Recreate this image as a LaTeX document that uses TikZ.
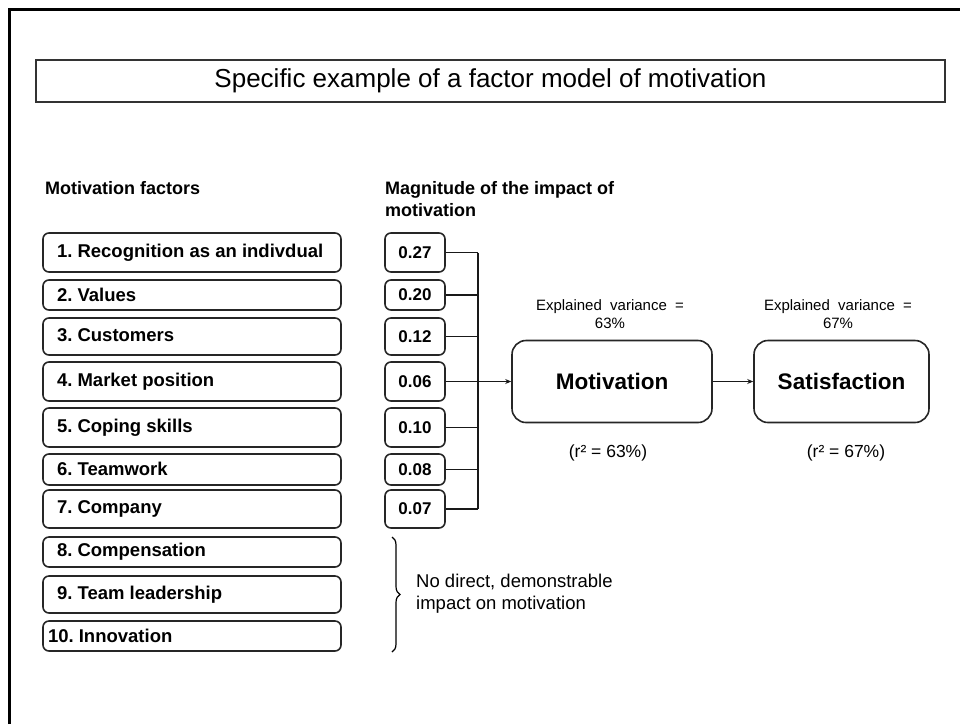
\documentclass[tikz,border=0pt]{standalone}
\usepackage{fontspec}
\setmainfont{Liberation Sans}
\usetikzlibrary{arrows.meta,decorations.pathreplacing}
\frenchspacing
\newcommand{\ftxt}[1]{\makebox[270pt][l]{#1}}
\begin{document}
\begin{tikzpicture}[x=1pt,y=-1pt,
  factor/.style={draw=black!85,line width=1.6pt,rounded corners=6pt,minimum width=298pt,inner xsep=14pt,inner ysep=0pt,font=\fontsize{18.5}{20}\selectfont\bfseries},
  value/.style={draw=black!85,line width=1.6pt,rounded corners=6pt,minimum width=60pt,inner sep=0pt,font=\fontsize{17}{20}\selectfont\bfseries},
  bigbox/.style={draw=black!85,line width=1.6pt,rounded corners=14pt,minimum height=82pt,inner sep=0pt,font=\fontsize{22.5}{26}\selectfont\bfseries},
  header/.style={font=\fontsize{18}{22}\selectfont\bfseries,inner sep=0pt,align=left},
  note/.style={font=\fontsize{15}{18}\selectfont,inner sep=0pt,align=center},
  conn/.style={line width=1.3pt,draw=black!90},
  arr/.style={conn,-{Stealth[length=6pt,width=5pt]}}
]
\useasboundingbox (0,0) rectangle (960,724);
% outer frame
\draw[line width=3pt] (9,724) -- (9,9) -- (960,9);
% title
\node[draw=black!80,line width=1.5pt,minimum width=909pt,minimum height=42pt,inner sep=0pt,font=\fontsize{26}{30}\selectfont] (title) at (490.5,81) {Specific example of a factor model of motivation};
% headers
\node[header,anchor=west] (hf) at (45,188) {Motivation factors};
\node[header,anchor=west] (hm) at (385,199) {Magnitude of the impact of\\motivation};
% factors
\node[factor,minimum height=39pt] (f1) at (192,252.5) {\ftxt{1. Recognition as an indivdual}};
\node[factor,minimum height=30pt] (f2) at (192,295) {\ftxt{2. Values}};
\node[factor,minimum height=37pt] (f3) at (192,336.5) {\ftxt{\raisebox{2pt}{3. Customers}}};
\node[factor,minimum height=39pt] (f4) at (192,381.5) {\ftxt{\raisebox{1.5pt}{4. Market position}}};
\node[factor,minimum height=39pt] (f5) at (192,427.5) {\ftxt{\raisebox{1.5pt}{5. Coping skills}}};
\node[factor,minimum height=31pt] (f6) at (192,469.5) {\ftxt{\raisebox{1.5pt}{6. Teamwork}}};
\node[factor,minimum height=38pt] (f7) at (192,509) {\ftxt{7. Company}};
\node[factor,minimum height=30pt] (f8) at (192,552) {\ftxt{\raisebox{2pt}{8. Compensation}}};
\node[factor,minimum height=37pt] (f9) at (192,594.5) {\ftxt{\raisebox{2pt}{9. Team leadership}}};
\node[factor,minimum height=30pt] (f10) at (192,636) {\ftxt{\hspace*{-9pt}10. Innovation}};
% values
\node[value,minimum height=39pt] (v1) at (415,252.5) {0.27};
\node[value,minimum height=30pt] (v2) at (415,295) {0.20};
\node[value,minimum height=37pt] (v3) at (415,336.5) {0.12};
\node[value,minimum height=39pt] (v4) at (415,381.5) {0.06};
\node[value,minimum height=39pt] (v5) at (415,427.5) {0.10};
\node[value,minimum height=31pt] (v6) at (415,469.5) {0.08};
\node[value,minimum height=38pt] (v7) at (415,509) {0.07};
% outcome boxes
\node[bigbox,minimum width=200pt] (mot) at (612,381.5) {Motivation};
\node[bigbox,minimum width=175pt] (sat) at (841.5,381.5) {Satisfaction};
% bus
\coordinate (bus) at (478,0);
\foreach \i in {1,...,7}{\draw[conn] (v\i.east) -- (v\i.east -| bus);}
\draw[conn] (v1.east -| bus) -- (v7.east -| bus);
\draw[arr] (v4.east) -- (mot.west);
\draw[arr] (mot.east) -- (sat.west);
% notes
\node[note] (ev1) at (610,314) {Explained\ \ variance\ \ =\\63\%};
\node[note] (ev2) at (838,314) {Explained\ \ variance\ \ =\\67\%};
\node[note,font=\fontsize{17.5}{20}\selectfont] (r1) at (608,453) {(r² = 63\%)};
\node[note,font=\fontsize{17.5}{20}\selectfont] (r2) at (846,453) {(r² = 67\%)};
% brace
\coordinate (bt) at (392,537);
\coordinate (bb) at (392,652);
\draw[line width=1.2pt,decorate,decoration={brace,amplitude=8pt}] (bt) -- (bb);
\node[font=\fontsize{18.5}{22}\selectfont,inner sep=0pt,align=left,anchor=west] (nd) at (416,594) {No direct, demonstrable\\impact on motivation};
\end{tikzpicture}
\end{document}
